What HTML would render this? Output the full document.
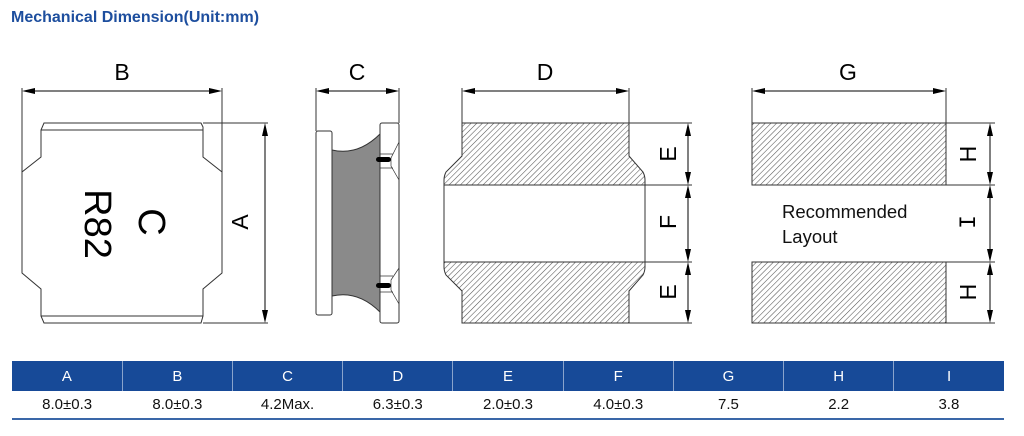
<!DOCTYPE html>
<html><head><meta charset="utf-8"><style>
body{margin:0;background:#fff;width:1024px;height:436px;overflow:hidden;font-family:"Liberation Sans",sans-serif}
.t{position:absolute;left:11px;top:9px;color:#1d4e9e;font-weight:bold;font-size:16px}
table{position:absolute;left:12px;top:361px;width:992px;border-collapse:collapse;table-layout:fixed;font-size:15px}
th{background:#174a98;color:#fff;font-weight:normal;height:30px;border-left:1px solid #8aa4cc;padding:0}
th:first-child{border-left:none}
td{height:27px;text-align:center;color:#111;border-bottom:2px solid #3a67a8;padding:0}
</style></head><body>
<div class="t">Mechanical Dimension(Unit:mm)</div>
<svg width="1024" height="360" style="position:absolute;left:0;top:0" font-family="Liberation Sans, sans-serif">
<defs>
<pattern id="h" width="4" height="4" patternUnits="userSpaceOnUse" patternTransform="rotate(45)"><rect width="4" height="4" fill="#fff"/><line x1="0" y1="0" x2="0" y2="4" stroke="#555" stroke-width="1.1"/></pattern>
</defs>
<g stroke="#333" stroke-width="1" fill="none">
<path d="M44,123 H201 L203,127 L203,130 L203,157 L222,172 V273 L203,289 V316 L201,323 H44 L41,316 V289 L22,273 V172 L41,157 V130 Z" fill="#fff"/>
<line x1="41" y1="130" x2="203" y2="130"/><line x1="41" y1="316" x2="203" y2="316"/>
<line x1="22" y1="88" x2="22" y2="172"/><line x1="222" y1="88" x2="222" y2="172"/>
<line x1="203" y1="123" x2="268" y2="123"/><line x1="203" y1="323" x2="268" y2="323"/>
<rect x="316" y="131" width="16" height="184" rx="2" fill="#fff"/>
<path d="M332,150 Q358,156 380,134 V312 Q358,290 332,296 Z" fill="#8a8a8a"/>
<rect x="380" y="123" width="19" height="200" rx="2" fill="#fff"/>
<line x1="316" y1="88" x2="316" y2="131"/><line x1="399" y1="88" x2="399" y2="123"/>
<path d="M399,142 L391,158 L391,166 L399,180 M380,154 H393 M380,168 H393 M399,268 L391,280 L391,290 L399,304 M380,276 H393 M380,292 H393" stroke-width="0.7"/>
<path d="M462,123 H629 V156 L643,172 Q645,176 645,180 V185 H444 V180 Q444,176 446,172 L462,156 Z" fill="url(#h)"/>
<rect x="444" y="185" width="201" height="77" fill="#fff"/>
<path d="M444,262 H645 V267 Q645,271 643,275 L629,291 V323 H462 V291 L446,275 Q444,271 444,267 Z" fill="url(#h)"/>
<line x1="462" y1="88" x2="462" y2="123"/><line x1="629" y1="88" x2="629" y2="123"/>
<line x1="629" y1="123" x2="692" y2="123"/><line x1="645" y1="185" x2="692" y2="185"/><line x1="645" y1="262" x2="692" y2="262"/><line x1="629" y1="323" x2="692" y2="323"/>
<rect x="752" y="123" width="194" height="62" fill="url(#h)"/>
<rect x="752" y="262" width="194" height="61" fill="url(#h)"/>
<line x1="752" y1="88" x2="752" y2="123"/><line x1="946" y1="88" x2="946" y2="123"/>
<line x1="946" y1="123" x2="995" y2="123"/><line x1="946" y1="185" x2="995" y2="185"/><line x1="946" y1="262" x2="995" y2="262"/><line x1="946" y1="323" x2="995" y2="323"/>
</g>
<g fill="#000"><rect x="376" y="157" width="15" height="5" rx="2.5"/><rect x="376" y="283" width="15" height="5" rx="2.5"/></g>
<g stroke="#000" stroke-width="1">
<line x1="34" y1="91" x2="210" y2="91"/><line x1="328" y1="91" x2="387" y2="91"/><line x1="474" y1="91" x2="617" y2="91"/><line x1="764" y1="91" x2="934" y2="91"/>
<line x1="265" y1="135" x2="265" y2="311"/>
<line x1="688" y1="135" x2="688" y2="173"/><line x1="688" y1="197" x2="688" y2="250"/><line x1="688" y1="274" x2="688" y2="311"/>
<line x1="990" y1="135" x2="990" y2="173"/><line x1="990" y1="197" x2="990" y2="250"/><line x1="990" y1="274" x2="990" y2="311"/>
</g>
<g fill="#000">
<path d="M22,91 l13,-3 v6z M222,91 l-13,-3 v6z M316,91 l13,-3 v6z M399,91 l-13,-3 v6z M462,91 l13,-3 v6z M629,91 l-13,-3 v6z M752,91 l13,-3 v6z M946,91 l-13,-3 v6z"/>
<path d="M265,123 l-3,13 h6z M265,323 l-3,-13 h6z"/>
<path d="M688,123 l-3,13 h6z M688,185 l-3,-13 h6z M688,185 l-3,13 h6z M688,262 l-3,-13 h6z M688,262 l-3,13 h6z M688,323 l-3,-13 h6z"/>
<path d="M990,123 l-3,13 h6z M990,185 l-3,-13 h6z M990,185 l-3,13 h6z M990,262 l-3,-13 h6z M990,262 l-3,13 h6z M990,323 l-3,-13 h6z"/>
</g>
<g font-size="23" text-anchor="middle" fill="#000">
<text x="122" y="80">B</text><text x="357" y="80">C</text><text x="545" y="80">D</text><text x="848" y="80">G</text>
<text transform="translate(240,222) rotate(-90)" y="8">A</text>
<text transform="translate(668,154) rotate(-90)" y="8">E</text>
<text transform="translate(668,222) rotate(-90)" y="8">F</text>
<text transform="translate(668,292) rotate(-90)" y="8">E</text>
<text transform="translate(968,154) rotate(-90)" y="8">H</text>
<text transform="translate(968,222) rotate(-90)" y="7" font-family="Liberation Mono, monospace">I</text>
<text transform="translate(968,292) rotate(-90)" y="8">H</text>
<text transform="translate(152,222) rotate(90)" y="13" font-size="38">C</text>
<text transform="translate(98,224) rotate(90)" y="13" font-size="38">R82</text>
</g>
<g font-size="18.5" fill="#111"><text x="782" y="218">Recommended</text><text x="782" y="243">Layout</text></g>
</svg>
<table><tr><th>A</th><th>B</th><th>C</th><th>D</th><th>E</th><th>F</th><th>G</th><th>H</th><th>I</th></tr>
<tr><td>8.0±0.3</td><td>8.0±0.3</td><td>4.2Max.</td><td>6.3±0.3</td><td>2.0±0.3</td><td>4.0±0.3</td><td>7.5</td><td>2.2</td><td>3.8</td></tr></table>
</body></html>
